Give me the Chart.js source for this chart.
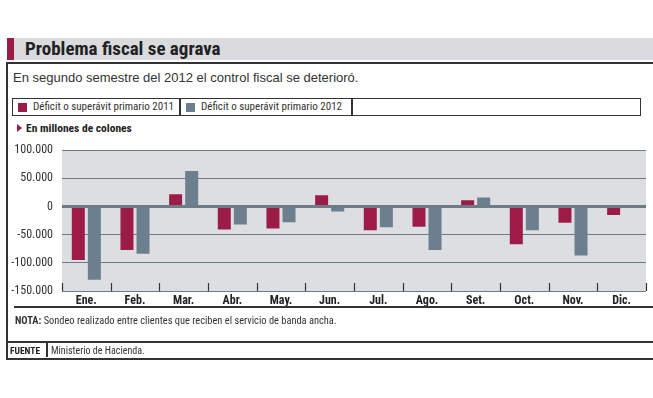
<!DOCTYPE html>
<html>
<head>
<meta charset="utf-8">
<script src="https://cdn.jsdelivr.net/npm/chart.js@4"></script>
<style>
  body { margin: 0; background: #fff; width: 653px; height: 398px; position: relative; overflow: hidden;
         font-family: "Liberation Sans Narrow", "Roboto Condensed", "Liberation Sans", sans-serif; color: #2b2b2b; }
  .abs { position: absolute; white-space: nowrap; }
  #titlebar { left: 14px; top: 38px; width: 639px; height: 22px; background: #d9dbde; }
  #titlemark { left: 7px; top: 38px; width: 7px; height: 22px; background: #9c1c47; }
  #title { left: 25px; top: 37px; font-size: 19px; font-weight: bold; color: #222; line-height: 24px; }
  #box { left: 6px; top: 62px; width: 660px; height: 294px; border: 2px solid #333; border-right: none; }
  #subtitle { left: 13px; top: 69px; font-family: "Liberation Sans", sans-serif; font-size: 13px; line-height: 18px; color: #333; }
  #legend { left: 12px; top: 98px; width: 627px; height: 16px; border: 1.5px solid #333; }
  .sw { position: absolute; top: 4px; width: 9px; height: 9px; }
  .lt { position: absolute; top: 0; font-size: 11px; line-height: 16px; color: #333; }
  .sep { position: absolute; top: 0; width: 1.5px; height: 16px; background: #333; }
  #unit { left: 26px; top: 121px; font-size: 11.5px; font-weight: bold; line-height: 14px; color: #222; }
  #tri { left: 17px; top: 124px; width: 0; height: 0; border-top: 4px solid transparent; border-bottom: 4px solid transparent; border-left: 5px solid #9c1c47; }
  #chartwrap { left: 0; top: 134px; width: 653px; height: 177px; }
  #axisline { left: 14px; top: 306px; width: 639px; height: 1.5px; background: #333; }
  #nota { left: 15px; top: 314px; font-size: 10.4px; line-height: 14px; color: #333; }
  #fuenteline { left: 6px; top: 341px; width: 647px; height: 2px; background: #333; }
  #fuente { left: 10px; top: 344px; font-size: 9.5px; font-weight: bold; line-height: 13px; color: #222; }
  #fsep { left: 46px; top: 343px; width: 1.5px; height: 14px; background: #333; }
  #fuentetxt { left: 51px; top: 344px; font-size: 10px; line-height: 13px; color: #333; }
</style>
</head>
<body>
<div class="abs" id="titlebar"></div>
<div class="abs" id="titlemark"></div>
<div class="abs" id="title">Problema fiscal se agrava</div>
<div class="abs" id="box"></div>
<div class="abs" id="subtitle">En segundo semestre del 2012 el control fiscal se deterioró.</div>
<div class="abs" id="legend">
  <div class="sw" style="left:5px;background:#9c1c47"></div>
  <div class="lt" style="left:20px">Déficit o superávit primario 2011</div>
  <div class="sep" style="left:166px"></div>
  <div class="sw" style="left:173px;background:#6c7f8e"></div>
  <div class="lt" style="left:188px">Déficit o superávit primario 2012</div>
  <div class="sep" style="left:338px"></div>
</div>
<div class="abs" id="tri"></div>
<div class="abs" id="unit">En millones de colones</div>
<div class="abs" id="chartwrap"><canvas id="chart"></canvas></div>
<div class="abs" id="axisline"></div>
<div class="abs" id="nota"><b>NOTA:</b> Sondeo realizado entre clientes que reciben el servicio de banda ancha.</div>
<div class="abs" id="fuenteline"></div>
<div class="abs" id="fuente">FUENTE</div>
<div class="abs" id="fsep"></div>
<div class="abs" id="fuentetxt">Ministerio de Hacienda.</div>

<script>
const months = ['Ene.', 'Feb.', 'Mar.', 'Abr.', 'May.', 'Jun.', 'Jul.', 'Ago.', 'Set.', 'Oct.', 'Nov.', 'Dic.'];
const primario2011 = [-95000, -77000, 22000, -41000, -39000, 20000, -42000, -36000, 11000, -67000, -29000, -15000];
const primario2012 = [-130000, -84000, 63000, -32000, -28000, -9000, -37000, -77000, 16000, -42000, -87000, null];
const yTicks = [-150000, -100000, -50000, 0, 50000, 100000];

const condensed = '"Liberation Sans Narrow", "Roboto Condensed", "Liberation Sans", sans-serif';

// plot background + short category ticks at the bottom of the plot
const plotDecor = {
    id: 'plotDecor',
    beforeDraw(chart) {
        const ctx = chart.ctx;
        const a = chart.chartArea;
        ctx.save();
        ctx.fillStyle = '#dcdee2';
        ctx.fillRect(a.left, a.top, a.right - a.left, a.bottom - a.top);
        ctx.restore();
    },
    afterDatasetsDraw(chart) {
        const ctx = chart.ctx;
        const a = chart.chartArea;
        const x = chart.scales.x;
        const half = (x.getPixelForValue(1) - x.getPixelForValue(0)) / 2;
        ctx.save();
        ctx.strokeStyle = '#333';
        ctx.lineWidth = 1.2;
        for (let i = 0; i <= months.length; i++) {
            const px = Math.round(x.getPixelForValue(i) - half) + 0.5;
            ctx.beginPath();
            ctx.moveTo(px, a.bottom - 8);
            ctx.lineTo(px, a.bottom);
            ctx.stroke();
        }
        ctx.restore();
    }
};

new Chart(document.getElementById('chart'), {
    type: 'bar',
    data: {
        labels: months,
        datasets: [{
            label: 'Déficit o superávit primario 2011',
            data: primario2011,
            backgroundColor: '#9c1c47'
        }, {
            label: 'Déficit o superávit primario 2012',
            data: primario2012,
            backgroundColor: '#6c7f8e'
        }]
    },
    options: {
        responsive: true,
        maintainAspectRatio: false,
        animation: false,
        layout: { padding: { top: 4, right: 7, left: 0, bottom: 0 } },
        plugins: { legend: { display: false }, tooltip: { enabled: false } },
        datasets: { bar: { categoryPercentage: 0.66, barPercentage: 0.81 } },
        scales: {
            x: {
                grid: { display: false, drawTicks: false },
                border: { display: false },
                ticks: { color: '#222', padding: 3, font: { family: condensed, size: 12, weight: 'bold' } },
                afterFit(scale) { scale.height = 20; }
            },
            y: {
                min: -150000,
                max: 100000,
                afterBuildTicks(scale) { scale.ticks = yTicks.map(v => ({ value: v })); },
                grid: {
                    drawTicks: false,
                    color: '#6d7b88',
                    lineWidth: c => (c.tick && c.tick.value === 0 ? 3 : 1)
                },
                border: { display: false },
                ticks: {
                    color: '#333',
                    padding: 9,
                    font: { family: condensed, size: 12 },
                    callback: v => v.toLocaleString('de-DE')
                },
                afterFit(scale) { scale.width = 62; }
            }
        }
    },
    plugins: [plotDecor]
});
</script>
</body>
</html>
